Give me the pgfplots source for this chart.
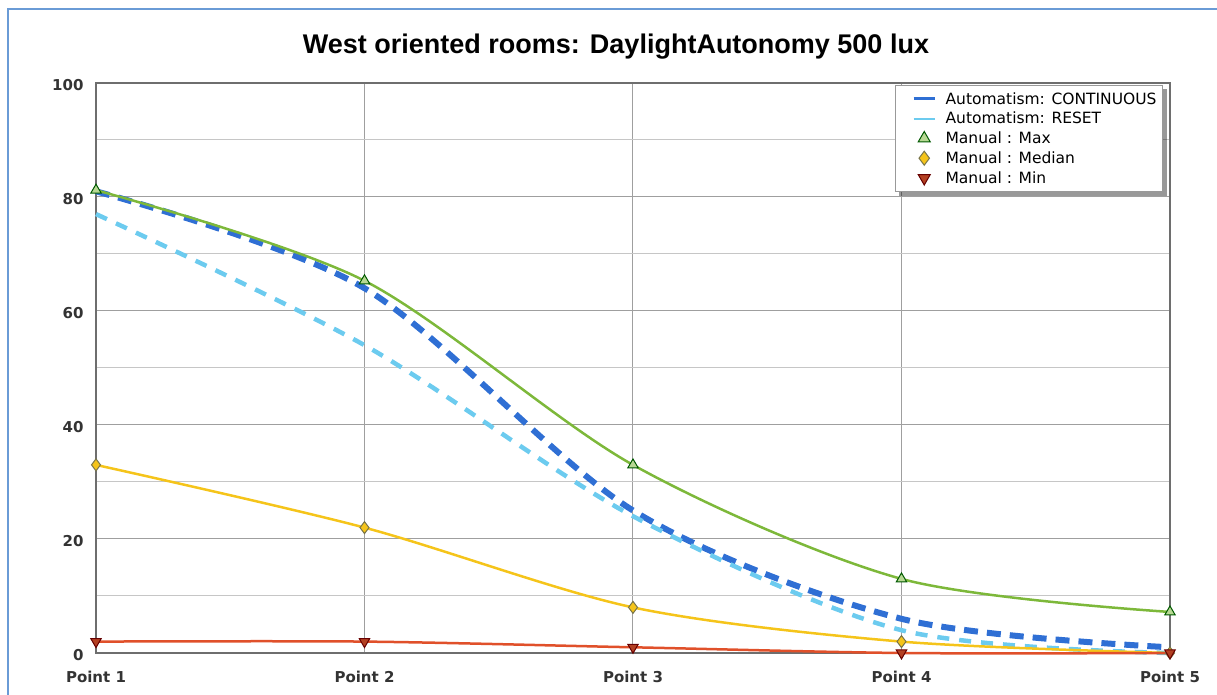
\documentclass[border=0pt]{standalone}
\usepackage{pgfplots}
\pgfplotsset{compat=1.18}
\usepackage{fontspec}
\setmainfont{DejaVu Sans}
\newfontfamily\titlefont{Liberation Sans}
\definecolor{frameblue}{HTML}{6A9BD6}
\definecolor{contblue}{HTML}{2F6FD4}
\definecolor{resetblue}{HTML}{6CCBEF}
\definecolor{maxgreen}{HTML}{7DB83A}
\definecolor{medyellow}{HTML}{F5C41A}
\definecolor{minred}{HTML}{E0502A}
\definecolor{axgray}{HTML}{6E6E6E}
\begin{document}
\begin{tikzpicture}[x=1pt,y=1pt]
\useasboundingbox (0,0) rectangle (1217,695);
\clip (0,0) rectangle (1217,695);
\draw[frameblue, line width=2.5pt] (8,-10) -- (8,686) -- (1230,686);
\node[font=\titlefont\bfseries\fontsize{27}{31}\selectfont] at (616,648) {West oriented rooms: DaylightAutonomy 500 lux};
\begin{axis}[
  at={(96pt,42pt)}, anchor=south west,
  scale only axis, width=1074pt, height=570pt,
  xmin=1, xmax=5, ymin=0, ymax=100,
  xtick={1,2,3,4,5},
  xticklabels={Point 1,Point 2,Point 3,Point 4,Point 5},
  ytick={0,20,40,60,80,100},
  minor ytick={10,30,50,70,90},
  grid=both,
  major grid style={draw=gray!75, line width=1pt},
  minor grid style={draw=gray!45, line width=1pt},
  axis line style={draw=axgray, line width=2pt},
  major tick length=0pt, minor tick length=0pt,
  /pgf/number format/assume math mode=true,
  tick label style={font=\bfseries\fontsize{15}{18}\selectfont, text=black!80},
  yticklabel style={xshift=-9pt, yshift=-2pt},
  xticklabel style={yshift=-15pt},
  legend style={name=leg, at={(0.9935,0.996)}, anchor=north east, draw=gray!80, line width=1pt, fill=white,
    font=\fontsize{15.5}{18}\selectfont, row sep=5.5pt, inner xsep=4pt, inner ysep=6pt,
    nodes={inner ysep=0.5pt, inner xsep=2pt}},
  legend cell align=left,
  clip=false,
]
\addplot[contblue, line width=6pt, dash pattern=on 14pt off 9pt, smooth, tension=0.5,
  legend image code/.code={\path[draw=none] (0cm,0cm) -- (1.55cm,0cm); \draw[solid, line width=3pt] (0.5cm,0cm) -- (1.25cm,0cm);}]
  coordinates {(1,81) (2,64) (3,25) (4,6) (5,1)};
\addlegendentry{Automatism: CONTINUOUS}
\addplot[resetblue, line width=4.5pt, dash pattern=on 12pt off 10pt, smooth, tension=0.5,
  legend image code/.code={\path[draw=none] (0cm,0cm) -- (1.55cm,0cm); \draw[solid, line width=2pt] (0.5cm,0cm) -- (1.25cm,0cm);}]
  coordinates {(1,77) (2,54) (3,24) (4,4) (5,0)};
\addlegendentry{Automatism: RESET}
\addplot[maxgreen, line width=2.5pt, smooth, tension=0.5,
  mark=triangle*, mark size=6pt, mark options={solid, fill=maxgreen!55, draw=black!65!green, line width=1pt},
  legend image code/.code={\path[draw=none] (0cm,0cm) -- (1.55cm,0cm); \draw[mark size=7pt] plot coordinates {(0.87cm,0cm)};}]
  coordinates {(1,81.2) (2,65.3) (3,33) (4,13) (5,7.2)};
\addlegendentry{Manual : Max}
\addplot[medyellow, line width=2.5pt, smooth, tension=0.5,
  mark=diamond*, mark size=6pt, mark options={solid, fill=medyellow, draw=black!60!yellow, line width=1pt},
  legend image code/.code={\path[draw=none] (0cm,0cm) -- (1.55cm,0cm); \draw[mark size=7pt] plot coordinates {(0.87cm,0cm)};}]
  coordinates {(1,33) (2,22) (3,8) (4,2) (5,0)};
\addlegendentry{Manual : Median}
\addplot[minred, line width=2.5pt, smooth, tension=0.5,
  mark=triangle*, mark size=6pt, mark options={solid, rotate=180, fill=minred!80!black, draw=black!60!red, line width=1pt},
  legend image code/.code={\path[draw=none] (0cm,0cm) -- (1.55cm,0cm); \draw[mark size=7pt] plot coordinates {(0.87cm,0cm)};}]
  coordinates {(1,2) (2,2) (3,1) (4,0) (5,0)};
\addlegendentry{Manual : Min}
\end{axis}
\fill[black, opacity=0.4] ([yshift=-4pt]leg.north east) rectangle ([xshift=4pt,yshift=-4pt]leg.south east);
\fill[black, opacity=0.4] ([xshift=4pt]leg.south west) rectangle ([yshift=-4pt]leg.south east);
\end{tikzpicture}
\end{document}
